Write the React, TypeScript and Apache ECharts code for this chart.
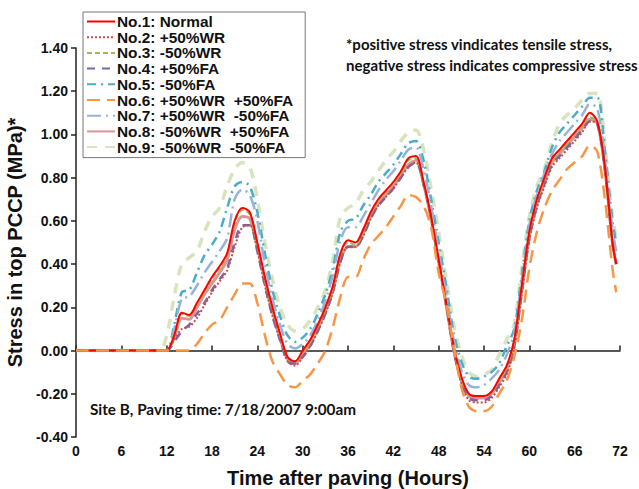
import React, { useEffect, useRef } from "react";
import * as echarts from "echarts";

const hours = [0, 11, 12, 13, 14, 15, 16, 17, 18, 19, 20, 21, 22, 23, 24, 25, 26, 27, 28, 29, 30, 31, 32, 33, 34, 35, 36, 37, 38, 39, 40, 41, 42, 43, 44, 45, 46, 47, 48, 49, 50, 51, 52, 53, 54, 55, 56, 57, 58, 59, 60, 61, 62, 63, 64, 65, 66, 67, 68, 69, 70, 71, 71.5];

const no1 = [0, 0, 0, 0.07, 0.175, 0.165, 0.22, 0.28, 0.34, 0.39, 0.45, 0.6, 0.66, 0.64, 0.5, 0.34, 0.2, 0.08, -0.03, -0.05, 0, 0.05, 0.12, 0.2, 0.3, 0.45, 0.51, 0.5, 0.56, 0.64, 0.7, 0.74, 0.78, 0.83, 0.89, 0.9, 0.78, 0.62, 0.42, 0.22, 0.02, -0.12, -0.2, -0.21, -0.21, -0.19, -0.13, -0.07, 0.05, 0.3, 0.55, 0.7, 0.8, 0.89, 0.93, 0.97, 1.01, 1.05, 1.1, 1.06, 0.85, 0.5, 0.4];
const no2 = [0, 0, 0, 0.05, 0.1, 0.11, 0.15, 0.21, 0.27, 0.32, 0.37, 0.48, 0.57, 0.58, 0.46, 0.3, 0.16, 0.05, -0.05, -0.07, -0.03, 0.02, 0.09, 0.17, 0.27, 0.41, 0.48, 0.48, 0.53, 0.61, 0.67, 0.71, 0.75, 0.8, 0.85, 0.87, 0.77, 0.61, 0.41, 0.21, 0, -0.15, -0.23, -0.24, -0.24, -0.22, -0.17, -0.11, 0.01, 0.26, 0.51, 0.66, 0.76, 0.85, 0.89, 0.93, 0.97, 1.01, 1.06, 1.05, 0.84, 0.5, 0.4];
const no3 = [0, 0, 0, 0.07, 0.17, 0.16, 0.21, 0.27, 0.33, 0.38, 0.44, 0.59, 0.65, 0.63, 0.49, 0.33, 0.19, 0.07, -0.03, -0.05, -0.01, 0.04, 0.11, 0.19, 0.29, 0.44, 0.5, 0.49, 0.55, 0.63, 0.69, 0.73, 0.77, 0.82, 0.88, 0.89, 0.77, 0.61, 0.41, 0.21, 0.01, -0.13, -0.2, -0.21, -0.21, -0.19, -0.14, -0.08, 0.04, 0.29, 0.54, 0.69, 0.79, 0.88, 0.92, 0.96, 1.0, 1.04, 1.08, 1.06, 0.84, 0.5, 0.4];
const no4 = [0, 0, 0, 0.04, 0.09, 0.12, 0.17, 0.22, 0.28, 0.33, 0.38, 0.5, 0.58, 0.58, 0.46, 0.3, 0.16, 0.05, -0.05, -0.06, -0.03, 0.02, 0.09, 0.17, 0.27, 0.41, 0.48, 0.48, 0.53, 0.61, 0.67, 0.71, 0.75, 0.8, 0.85, 0.87, 0.77, 0.61, 0.41, 0.21, 0, -0.14, -0.22, -0.23, -0.23, -0.21, -0.16, -0.1, 0.02, 0.27, 0.52, 0.67, 0.77, 0.86, 0.9, 0.94, 0.98, 1.02, 1.06, 1.05, 0.84, 0.5, 0.4];
const no5 = [0, 0, 0, 0.12, 0.27, 0.28, 0.36, 0.44, 0.49, 0.55, 0.66, 0.76, 0.78, 0.76, 0.64, 0.45, 0.28, 0.16, 0.07, 0.04, 0.06, 0.1, 0.17, 0.26, 0.38, 0.55, 0.6, 0.61, 0.67, 0.72, 0.78, 0.82, 0.86, 0.91, 0.96, 0.97, 0.88, 0.7, 0.5, 0.3, 0.08, -0.05, -0.12, -0.13, -0.12, -0.1, -0.06, 0.02, 0.1, 0.35, 0.6, 0.74, 0.83, 0.94, 1.01, 1.05, 1.09, 1.13, 1.17, 1.17, 0.93, 0.6, 0.5];
const no6 = [0, 0, 0, 0, 0, 0, 0.03, 0.08, 0.12, 0.14, 0.2, 0.26, 0.31, 0.31, 0.22, 0.07, -0.05, -0.11, -0.16, -0.17, -0.14, -0.11, -0.06, 0, 0.11, 0.25, 0.34, 0.34, 0.42, 0.49, 0.53, 0.57, 0.62, 0.67, 0.72, 0.71, 0.67, 0.57, 0.36, 0.22, 0.02, -0.17, -0.26, -0.28, -0.28, -0.26, -0.2, -0.14, -0.03, 0.14, 0.38, 0.55, 0.66, 0.74, 0.79, 0.84, 0.87, 0.9, 0.95, 0.92, 0.7, 0.38, 0.27];
const no7 = [0, 0, 0, 0.1, 0.24, 0.25, 0.3, 0.36, 0.41, 0.46, 0.52, 0.7, 0.745, 0.72, 0.6, 0.4, 0.24, 0.12, 0.03, 0.01, 0.03, 0.07, 0.14, 0.23, 0.35, 0.51, 0.57, 0.57, 0.62, 0.68, 0.74, 0.79, 0.83, 0.88, 0.93, 0.94, 0.84, 0.67, 0.46, 0.26, 0.05, -0.09, -0.16, -0.17, -0.16, -0.13, -0.09, -0.02, 0.08, 0.33, 0.58, 0.72, 0.82, 0.91, 0.97, 1.01, 1.05, 1.09, 1.14, 1.12, 0.89, 0.56, 0.46];
const no8 = [0, 0, 0, 0.06, 0.15, 0.145, 0.2, 0.26, 0.31, 0.36, 0.42, 0.56, 0.62, 0.61, 0.48, 0.32, 0.18, 0.06, -0.04, -0.06, -0.02, 0.03, 0.1, 0.18, 0.28, 0.42, 0.48, 0.48, 0.54, 0.62, 0.68, 0.72, 0.76, 0.81, 0.86, 0.88, 0.77, 0.61, 0.41, 0.21, 0, -0.14, -0.21, -0.22, -0.22, -0.2, -0.15, -0.09, 0.03, 0.28, 0.53, 0.68, 0.78, 0.87, 0.91, 0.95, 0.99, 1.03, 1.07, 1.05, 0.84, 0.5, 0.4];
const no9 = [0, 0, 0.07, 0.25, 0.4, 0.43, 0.46, 0.55, 0.62, 0.66, 0.76, 0.84, 0.87, 0.85, 0.7, 0.5, 0.33, 0.2, 0.12, 0.09, 0.1, 0.14, 0.2, 0.28, 0.42, 0.62, 0.66, 0.68, 0.74, 0.78, 0.83, 0.88, 0.92, 0.97, 1.01, 1.02, 0.93, 0.75, 0.55, 0.33, 0.12, -0.02, -0.1, -0.12, -0.11, -0.09, -0.02, 0.05, 0.12, 0.38, 0.62, 0.76, 0.84, 0.96, 1.05, 1.09, 1.12, 1.16, 1.19, 1.19, 0.95, 0.62, 0.52];

const seriesNames = [
  "No.1: Normal",
  "No.2: +50%WR",
  "No.3: -50%WR",
  "No.4: +50%FA",
  "No.5: -50%FA",
  "No.6: +50%WR  +50%FA",
  "No.7: +50%WR  -50%FA",
  "No.8: -50%WR  +50%FA",
  "No.9: -50%WR  -50%FA",
];
const seriesValues = [no1, no2, no3, no4, no5, no6, no7, no8, no9];
const seriesColors = ["#ff0000", "#c0504d", "#9bbb59", "#8064a2", "#4bacc6", "#f79646", "#95b3d7", "#d99694", "#d7e4bd"];
const seriesWidths = [2, 2, 2, 2.5, 2.5, 2.5, 2.5, 3, 3.5];
const seriesDashes: any[] = ["solid", [2, 2], [5, 3], [8, 7], [9, 5, 2, 5], [13, 7], [14, 5, 2, 5], "solid", [10, 8]];
const drawOrder = [8, 4, 6, 7, 3, 1, 2, 0, 5];

const yTicks = { min: -0.4, max: 1.4, interval: 0.2 };
const xTicks = { min: 0, max: 72, interval: 6 };

const FONT = "Liberation Sans, Arial, sans-serif";

export default function App() {
  const ref = useRef<HTMLDivElement>(null);
  useEffect(() => {
    const chart = echarts.init(ref.current!, null, { renderer: "svg" });
    const series = drawOrder.map((i) => ({
      name: seriesNames[i],
      type: "line",
      data: hours.map((h, k) => [h, seriesValues[i][k]]),
      symbol: "none",
      showSymbol: false,
      smooth: 0.3,
      lineStyle: { color: seriesColors[i], width: seriesWidths[i], type: seriesDashes[i] },
      itemStyle: { color: seriesColors[i] },
      z: 2 + drawOrder.indexOf(i),
    }));
    chart.setOption({
      animation: false,
      backgroundColor: "#ffffff",
      textStyle: { fontFamily: FONT },
      grid: { left: 76, right: 19, top: 48, bottom: 52, containLabel: false, outerBoundsMode: "none" },
      legend: {
        orient: "vertical",
        left: 83,
        top: 12,
        data: seriesNames,
        itemWidth: 28,
        itemHeight: 12,
        itemGap: 0.7,
        padding: [2, 12, 3, 3],
        borderColor: "#777",
        borderWidth: 1,
        backgroundColor: "#fff",
        itemStyle: { opacity: 0 },
        textStyle: { fontFamily: FONT, fontWeight: "bold", fontSize: 15.4, color: "#111", padding: [0, 0, 0, -3] },
      },
      xAxis: {
        type: "value",
        min: xTicks.min,
        max: xTicks.max,
        interval: xTicks.interval,
        name: "Time after paving (Hours)",
        nameLocation: "middle",
        nameGap: 31,
        nameTextStyle: { fontFamily: FONT, fontWeight: "bold", fontSize: 20, color: "#111" },
        axisLine: { lineStyle: { color: "#222", width: 1.5 } },
        axisTick: { inside: true, length: 5, lineStyle: { color: "#222", width: 1.5 } },
        axisLabel: { fontFamily: FONT, fontWeight: "bold", fontSize: 14, color: "#111", margin: 7 },
        splitLine: { show: false },
      },
      yAxis: {
        type: "value",
        min: yTicks.min,
        max: yTicks.max,
        interval: yTicks.interval,
        name: "Stress in top PCCP (MPa)*",
        nameLocation: "middle",
        nameGap: 34,
        nameTextStyle: { fontFamily: FONT, fontWeight: "bold", fontSize: 20, color: "#111" },
        axisLine: { show: true, lineStyle: { color: "#222", width: 1.5 } },
        axisTick: { show: true, length: 5, lineStyle: { color: "#222", width: 1.5 } },
        axisLabel: {
          fontFamily: FONT,
          fontWeight: "bold",
          fontSize: 14,
          color: "#111",
          margin: 8,
          formatter: (v: number) => (Math.abs(v) < 1e-9 ? "0.00" : v.toFixed(2)),
        },
        splitLine: { show: false },
      },
      graphic: [
        {
          type: "text",
          left: 346,
          top: 33,
          style: {
            text: "*positive stress vindicates tensile stress,\nnegative stress indicates compressive stress",
            font: "bold 15px Lato, sans-serif",
            fill: "#111",
            lineHeight: 21,
          },
        },
        {
          type: "text",
          left: 90,
          top: 401,
          style: {
            text: "Site B, Paving time: 7/18/2007 9:00am",
            font: "bold 15.3px Lato, sans-serif",
            fill: "#111",
          },
        },
      ],
      series,
    });
    return () => chart.dispose();
  }, []);
  return <div ref={ref} style={{ width: 639, height: 489, position: "absolute", left: 0, top: 0 }} />;
}
